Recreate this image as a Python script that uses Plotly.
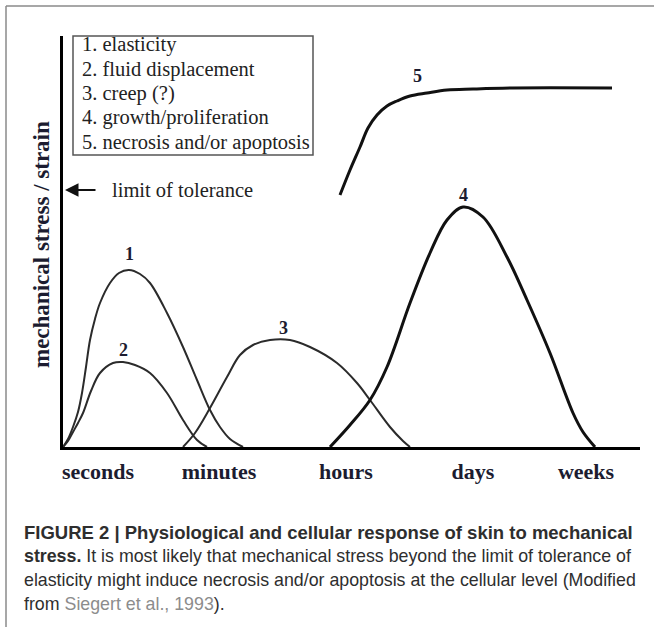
import plotly.graph_objects as go

# ---- data (time position along axis, response magnitude) ----
time_ticks = [35, 156, 283, 410, 523]
time_labels = ["seconds", "minutes", "hours", "days", "weeks"]

c1_x = [0, 5, 10, 15, 19, 23, 27, 32, 37, 47, 56, 66, 77, 87, 104, 120, 134, 147, 157, 167, 180]
c1_y = [0, 8, 20, 35, 54, 80, 107, 128, 144, 164, 174, 177, 173, 164, 134, 100, 67, 37, 20, 8, 0]

c2_x = [0, 5, 10, 15, 20, 28, 37, 50, 60, 72, 87, 104, 120, 134, 144]
c2_y = [0, 6, 15, 24, 34, 56, 74, 84, 85, 82, 74, 54, 27, 7, 0]

c3_x = [120, 132, 147, 164, 177, 190, 207, 227, 247, 274, 294, 307, 327, 340, 347]
c3_y = [0, 14, 39, 70, 92, 102, 107, 107, 100, 84, 64, 47, 20, 6, 0]

c4_x = [267, 287, 307, 324, 347, 367, 384, 400, 420, 444, 464, 487, 510, 520, 532]
c4_y = [0, 22, 47, 80, 144, 194, 227, 240, 230, 190, 147, 94, 34, 15, 0]

c5_x = [277, 287, 297, 305, 314, 324, 334, 347, 364, 384, 410, 450, 549]
c5_y = [252, 277, 300, 319, 332, 341, 346, 351, 354, 357, 358, 359, 359]

curve_labels = ["1", "2", "3", "4", "5"]
label_x = [66, 60, 220, 400, 354]
label_y = [193, 97, 119, 252, 371]

legend_items = ["1. elasticity", "2. fluid displacement", "3. creep (?)",
                "4. growth/proliferation", "5. necrosis and/or apoptosis"]

W, H = 654, 627
L, R, T, B = 63, 14, 36, 180
PW, PH = W - L - R, H - T - B


def px(x):
    return (x - L) / PW


def py(y):
    return (H - B - y) / PH


serif = "Liberation Serif, Times New Roman, serif"
sans = "Liberation Sans, Arial, sans-serif"
ink = "#1c1c30"

fig = go.Figure()
thin = dict(color="#2b2b2b", width=2, shape="spline", smoothing=1.0)
thick = dict(color="#111111", width=3, shape="spline", smoothing=1.0)
for xs, ys, ln in [(c1_x, c1_y, thin), (c2_x, c2_y, thin), (c3_x, c3_y, thin),
                   (c4_x, c4_y, thick), (c5_x, c5_y, thick)]:
    fig.add_trace(go.Scatter(x=xs, y=ys, mode="lines", line=ln,
                             hoverinfo="skip", showlegend=False))

annotations = []
for t, x, y in zip(curve_labels, label_x, label_y):
    annotations.append(dict(x=x, y=y, text="<b>" + t + "</b>", showarrow=False,
                            font=dict(family=serif, size=18, color=ink)))

# legend box text
for i, item in enumerate(legend_items):
    annotations.append(dict(x=px(80), y=py(45 + i * 24.3), xref="paper", yref="paper",
                            text=item, showarrow=False, xanchor="left", yanchor="middle",
                            font=dict(family=serif, size=20.5, color="#222222")))

# limit of tolerance
annotations.append(dict(x=px(110), y=py(190), xref="paper", yref="paper",
                        text="limit of tolerance", showarrow=False,
                        xanchor="left", yanchor="middle",
                        font=dict(family=serif, size=20.5, color="#222222")))
annotations.append(dict(x=px(65), y=py(190), xref="paper", yref="paper",
                        ax=32, ay=0, axref="pixel", ayref="pixel",
                        text="", showarrow=True, arrowhead=2, arrowsize=1.5,
                        arrowwidth=1.8, arrowcolor="#111111"))

# y-axis title
annotations.append(dict(x=px(42), y=py(245), xref="paper", yref="paper",
                        text="<b>mechanical stress / strain</b>", showarrow=False,
                        textangle=-90, xanchor="center", yanchor="middle",
                        font=dict(family=serif, size=23, color=ink)))

# caption
cap_lines = [
    "<b>FIGURE 2 | Physiological and cellular response of skin to mechanical</b>",
    "<b>stress.</b> It is most likely that mechanical stress beyond the limit of tolerance of",
    "elasticity might induce necrosis and/or apoptosis at the cellular level (Modified",
    "from <span style='color:#8c8c8c'>Siegert et al., 1993</span>).",
]
cap_sizes = [18.5, 17.8, 17.8, 17.8]
for i, line in enumerate(cap_lines):
    annotations.append(dict(x=px(22), y=py(532 + i * 24), xref="paper", yref="paper",
                            text=line, showarrow=False, xanchor="left", yanchor="middle",
                            font=dict(family=sans, size=cap_sizes[i], color="#2e2e2e")))

shapes = [
    # legend frame
    dict(type="rect", xref="paper", yref="paper", x0=px(73), x1=px(313),
         y0=py(155), y1=py(36), line=dict(color="#555555", width=1.5)),
    # outer figure frame
    dict(type="line", xref="paper", yref="paper", x0=px(6), x1=px(654),
         y0=py(6), y1=py(6), line=dict(color="#8a8a8a", width=1.5)),
    dict(type="line", xref="paper", yref="paper", x0=px(6), x1=px(6),
         y0=py(6), y1=py(627), line=dict(color="#8a8a8a", width=1.5)),
]

fig.update_layout(
    width=W, height=H, margin=dict(l=L, r=R, t=T, b=B),
    paper_bgcolor="white", plot_bgcolor="white",
    annotations=annotations, shapes=shapes, showlegend=False,
    xaxis=dict(range=[0, PW], showgrid=False, zeroline=False, showline=True,
               linecolor="#000000", linewidth=3, tickvals=time_ticks,
               ticktext=["<b>" + t + "</b>" for t in time_labels], ticks="",
               ticklabelstandoff=3,
               tickfont=dict(family=serif, size=22, color=ink), fixedrange=True),
    yaxis=dict(range=[0, PH], showgrid=False, zeroline=False, showline=True,
               linecolor="#000000", linewidth=3, showticklabels=False, ticks="",
               fixedrange=True),
)

fig.write_html("out.html", config={"displayModeBar": False},
               post_script="document.body.style.margin='0px';document.body.style.overflow='hidden';")
